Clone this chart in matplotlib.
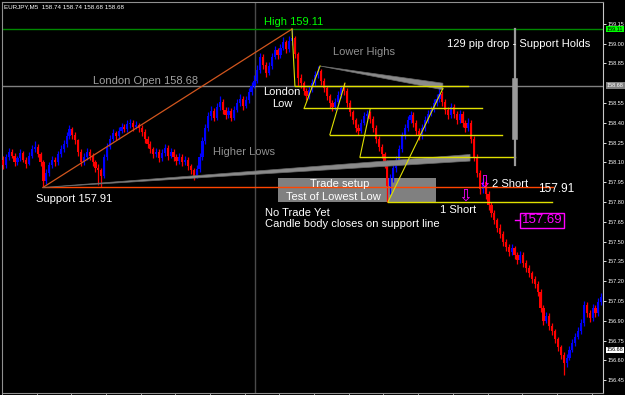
import matplotlib
matplotlib.use("Agg")
import matplotlib.pyplot as plt
import matplotlib.transforms as mtransforms
from matplotlib.patches import Rectangle, Polygon
import numpy as np

plt.rcParams['font.family'] = ['Liberation Sans', 'DejaVu Sans']

# ---------------- data ----------------
symbol_title = "EURJPY,M5  158.74 158.74 158.68 158.68"
first_open = 158.12
closes = [
    158.08, 158.14, 158.18, 158.15, 158.10, 158.13, 158.17, 158.12, 158.09, 158.15,
    158.20, 158.22, 158.16, 158.10, 157.96, 158.02, 158.08, 158.12, 158.10, 158.16,
    158.20, 158.24, 158.30, 158.35, 158.31, 158.27, 158.18, 158.10, 158.14, 158.18,
    158.15, 158.10, 158.06, 158.04, 158.00, 158.14, 158.22, 158.28, 158.32, 158.30,
    158.34, 158.37, 158.35, 158.39, 158.40, 158.37, 158.38, 158.36, 158.33, 158.28,
    158.24, 158.20, 158.16, 158.18, 158.13, 158.17, 158.21, 158.15, 158.18, 158.14,
    158.11, 158.14, 158.10, 158.12, 158.07, 158.04, 158.00, 158.05, 158.14, 158.26,
    158.36, 158.45, 158.49, 158.44, 158.52, 158.56, 158.50, 158.46, 158.49, 158.44,
    158.50, 158.55, 158.58, 158.53, 158.57, 158.63, 158.68, 158.72, 158.80, 158.90,
    158.84, 158.78, 158.83, 158.90, 158.95, 158.91, 158.97, 159.01, 158.96, 159.02,
    159.04, 158.92, 158.74, 158.70, 158.64, 158.60, 158.65, 158.70, 158.76, 158.79,
    158.72, 158.66, 158.60, 158.55, 158.52, 158.56, 158.61, 158.66, 158.64, 158.55,
    158.48, 158.42, 158.36, 158.34, 158.40, 158.45, 158.47, 158.43, 158.36, 158.28,
    158.22, 158.16, 158.10, 157.92, 157.98, 158.06, 158.12, 158.20, 158.30, 158.36,
    158.42, 158.46, 158.40, 158.34, 158.30, 158.36, 158.42, 158.47, 158.50, 158.55,
    158.58, 158.62, 158.56, 158.50, 158.46, 158.52, 158.47, 158.42, 158.47, 158.40,
    158.36, 158.40, 158.28, 158.14, 158.02, 157.90, 157.95, 157.86, 157.78, 157.72,
    157.66, 157.60, 157.56, 157.50, 157.46, 157.42, 157.45, 157.40, 157.36, 157.40,
    157.34, 157.30, 157.26, 157.22, 157.18, 157.12, 157.00, 156.90, 156.94, 156.86,
    156.82, 156.76, 156.70, 156.64, 156.58, 156.62, 156.68, 156.73, 156.78, 156.82,
    156.88, 157.02, 156.96, 156.92, 157.00, 156.96, 157.04, 157.08,
]
highs = [
    158.15, 158.16, 158.21, 158.20, 158.17, 158.15, 158.20, 158.19, 158.14, 158.18,
    158.23, 158.26, 158.24, 158.18, 158.12, 158.05, 158.10, 158.15, 158.14, 158.19,
    158.23, 158.27, 158.33, 158.38, 158.37, 158.33, 158.28, 158.20, 158.17, 158.21,
    158.20, 158.17, 158.12, 158.09, 158.06, 158.16, 158.25, 158.31, 158.35, 158.34,
    158.37, 158.40, 158.39, 158.42, 158.43, 158.42, 158.41, 158.40, 158.38, 158.35,
    158.30, 158.26, 158.22, 158.21, 158.20, 158.20, 158.24, 158.23, 158.21, 158.20,
    158.16, 158.17, 158.16, 158.15, 158.14, 158.09, 158.06, 158.08, 158.17, 158.29,
    158.39, 158.48, 158.53, 158.51, 158.55, 158.60, 158.58, 158.52, 158.52, 158.51,
    158.53, 158.58, 158.62, 158.60, 158.60, 158.66, 158.71, 158.76, 158.84, 158.93,
    158.92, 158.86, 158.86, 158.93, 158.98, 158.97, 159.00, 159.05, 159.03, 159.06,
    159.11, 159.06, 158.94, 158.77, 158.72, 158.66, 158.68, 158.73, 158.79, 158.83,
    158.81, 158.74, 158.68, 158.62, 158.57, 158.59, 158.64, 158.68, 158.70, 158.66,
    158.57, 158.50, 158.44, 158.39, 158.43, 158.48, 158.50, 158.49, 158.45, 158.38,
    158.30, 158.24, 158.18, 158.12, 158.01, 158.09, 158.15, 158.23, 158.33, 158.39,
    158.45, 158.49, 158.48, 158.42, 158.36, 158.39, 158.45, 158.50, 158.53, 158.58,
    158.62, 158.66, 158.64, 158.58, 158.52, 158.55, 158.54, 158.49, 158.50, 158.49,
    158.42, 158.44, 158.42, 158.30, 158.16, 158.04, 157.98, 157.97, 157.88, 157.80,
    157.74, 157.68, 157.63, 157.58, 157.52, 157.48, 157.48, 157.47, 157.42, 157.43,
    157.42, 157.36, 157.32, 157.28, 157.24, 157.20, 157.14, 157.02, 156.97, 156.96,
    156.88, 156.84, 156.78, 156.72, 156.66, 156.65, 156.71, 156.76, 156.81, 156.85,
    156.91, 157.05, 157.04, 156.98, 157.03, 157.02, 157.07, 157.11,
]
lows = [
    158.05, 158.06, 158.12, 158.13, 158.07, 158.08, 158.11, 158.10, 158.06, 158.08,
    158.13, 158.18, 158.14, 158.07, 157.91, 157.94, 158.00, 158.06, 158.07, 158.08,
    158.14, 158.18, 158.22, 158.28, 158.28, 158.24, 158.15, 158.07, 158.08, 158.12,
    158.12, 158.07, 158.03, 157.93, 157.91, 157.98, 158.12, 158.20, 158.26, 158.27,
    158.28, 158.32, 158.33, 158.33, 158.36, 158.34, 158.35, 158.33, 158.30, 158.25,
    158.21, 158.17, 158.13, 158.14, 158.10, 158.11, 158.15, 158.12, 158.13, 158.11,
    158.08, 158.09, 158.07, 158.08, 158.04, 158.01, 157.97, 157.98, 158.03, 158.12,
    158.24, 158.34, 158.42, 158.41, 158.42, 158.50, 158.47, 158.43, 158.44, 158.41,
    158.42, 158.48, 158.53, 158.50, 158.51, 158.55, 158.61, 158.66, 158.70, 158.78,
    158.81, 158.75, 158.76, 158.81, 158.88, 158.88, 158.89, 158.95, 158.93, 158.94,
    158.99, 158.89, 158.68, 158.66, 158.61, 158.57, 158.58, 158.63, 158.68, 158.74,
    158.69, 158.63, 158.57, 158.51, 158.49, 158.50, 158.54, 158.59, 158.61, 158.52,
    158.45, 158.39, 158.33, 158.31, 158.32, 158.38, 158.43, 158.40, 158.33, 158.25,
    158.19, 158.13, 158.06, 157.80, 157.86, 157.95, 158.03, 158.10, 158.18, 158.28,
    158.34, 158.40, 158.37, 158.31, 158.27, 158.28, 158.34, 158.40, 158.45, 158.48,
    158.53, 158.56, 158.53, 158.47, 158.43, 158.44, 158.44, 158.39, 158.40, 158.37,
    158.33, 158.34, 158.25, 158.11, 157.99, 157.86, 157.87, 157.82, 157.74, 157.69,
    157.63, 157.57, 157.53, 157.47, 157.43, 157.39, 157.40, 157.37, 157.33, 157.34,
    157.31, 157.27, 157.23, 157.19, 157.15, 157.09, 156.97, 156.87, 156.88, 156.83,
    156.79, 156.73, 156.67, 156.61, 156.49, 156.55, 156.60, 156.66, 156.71, 156.76,
    156.80, 156.86, 156.93, 156.89, 156.90, 156.93, 156.94, 157.02,
]
opens = [first_open] + closes[:-1]

price_ticks = [159.15, 159.00, 158.85, 158.55, 158.40, 158.25, 158.10, 157.95,
               157.80, 157.65, 157.50, 157.35, 157.20, 157.05, 156.90, 156.75,
               156.60, 156.45]
high_price = 159.11
london_open = 158.68
support_price = 157.91
bid_price = 156.68
target_price = 157.69

# annotation anchors (bar index, price)
support_span = (13.8, 190.3)
high_bar = 100.0
higher_lows = [(13.8, 157.91), (161.6, 158.16), (161.6, 158.11)]
lower_highs = [(109.7, 158.83), (152.2, 158.70), (152.2, 158.65)]
yellow_h = [(158.68, 101.0, 160.9), (158.51, 104.2, 165.7), (158.31, 113.1, 172.7),
            (158.14, 123.5, 177.2), (157.80, 133.2, 190.0)]
yellow_d = [((100.0, 159.11), (101.0, 158.68)), ((104.2, 158.51), (109.7, 158.83)),
            ((113.1, 158.31), (118.3, 158.70)), ((123.5, 158.14), (127.0, 158.50)),
            ((133.2, 157.80), (152.2, 158.66))]
setup_box = (95.2, 149.8, 157.80, 157.98)
drop_bar_x = 177.2
separator_x = 87.2

# ---------------- figure ----------------
W, H = 625, 395
fig = plt.figure(figsize=(W / 100, H / 100), dpi=100, facecolor='black')
ax = fig.add_axes([2 / W, 2 / H, 601 / W, 391 / H], facecolor='black')
n = len(closes)
x = np.arange(n)
ax.set_xlim(-0.35, 207.6)
ax.set_ylim(156.353, 159.315)

# background objects
ax.axvline(separator_x, color='#4a4a4a', lw=1.0, zorder=1)
ax.axhline(high_price, color='#008800', lw=1.0, zorder=1)
ax.axhline(london_open, color='#808080', lw=1.0, zorder=1)
ax.add_patch(Rectangle((setup_box[0], setup_box[2]), setup_box[1] - setup_box[0],
                       setup_box[3] - setup_box[2], fc='#808080', ec='none', zorder=1))

# candles
o = np.array(opens); c = np.array(closes); h = np.array(highs); l = np.array(lows)
up = c >= o
cols = np.where(up, '#0000FF', '#FF0000')
ax.vlines(x, l, h, colors=cols, linewidth=0.9, zorder=3)
ax.bar(x, np.maximum(np.abs(c - o), 0.005), bottom=np.minimum(o, c), width=0.75,
       color=cols, linewidth=0, zorder=3)

# trend objects
ax.plot(support_span, [support_price] * 2, color='#FF4500', lw=1.0, zorder=4)
ax.plot([support_span[0], high_bar], [support_price, high_price], color='#D2561E',
        lw=0.9, zorder=4)
ax.add_patch(Polygon(higher_lows, closed=True, fc='#8a8a8a', ec='#6a6a6a', lw=0.5, zorder=4))
ax.add_patch(Polygon(lower_highs, closed=True, fc='#8a8a8a', ec='#6a6a6a', lw=0.5, zorder=4))
for p, x0, x1 in yellow_h:
    ax.plot([x0, x1], [p, p], color='#E0E000', lw=1.0, zorder=4)
for (a, b) in yellow_d:
    ax.plot([a[0], b[0]], [a[1], b[1]], color='#E0E000', lw=0.8, zorder=4)
ax.plot([drop_bar_x, drop_bar_x], [high_price, 158.08], color='#9a9a9a', lw=1.6, zorder=4)
ax.plot([drop_bar_x, drop_bar_x], [158.72, 158.29], color='#9a9a9a', lw=4.0, zorder=4)
ax.plot([drop_bar_x, 178.9], [157.66, 157.66], color='#FF00FF', lw=1.0, zorder=4)

# texts
fs = 8
ax.text(90.3, 159.16, "High 159.11", color='#00FF00', fontsize=fs, va='center', ha='left', zorder=6)
ax.text(31.1, 158.72, "London Open 158.68", color='#a0a0a0', fontsize=fs, va='center', ha='left', zorder=6)
ax.text(114.2, 158.94, "Lower Highs", color='#909090', fontsize=fs, va='center', ha='left', zorder=6)
ax.text(72.7, 158.18, "Higher Lows", color='#909090', fontsize=fs, va='center', ha='left', zorder=6)
ax.text(96.5, 158.63, "London", color='white', fontsize=fs, va='center', ha='center', zorder=6)
ax.text(96.5, 158.545, "Low", color='white', fontsize=fs, va='center', ha='center', zorder=6)
ax.text(153.6, 159.00, "129 pip drop - Support Holds", color='white', fontsize=fs, va='center', ha='left', zorder=6)
ax.text(11.4, 157.82, "Support 157.91", color='white', fontsize=fs, va='center', ha='left', zorder=6)
ax.text(90.7, 157.72, "No Trade Yet", color='white', fontsize=fs, va='center', ha='left', zorder=6)
ax.text(90.7, 157.635, "Candle body closes on support line", color='white', fontsize=fs, va='center', ha='left', zorder=6)
ax.text(116.6, 157.935, "Trade setup", color='white', fontsize=fs, va='center', ha='center', zorder=6)
ax.text(114.2, 157.84, "Test of Lowest Low", color='white', fontsize=fs, va='center', ha='center', zorder=6)
ax.text(151.2, 157.74, "1 Short", color='white', fontsize=fs, va='center', ha='left', zorder=6)
ax.text(169.2, 157.935, "2 Short", color='white', fontsize=fs, va='center', ha='left', zorder=6)
ax.text(185.1, 157.90, "157.91", color='white', fontsize=8.5, va='center', ha='left', zorder=6)
ax.text(186.5, 157.66, "157.69", color='#FF00FF', fontsize=9.5, va='center', ha='center', zorder=6,
        bbox=dict(boxstyle='square,pad=0.12', fc='black', ec='#FF00FF', lw=1.0))
ax.text(166.4, 157.955, "\u21e9", color='#FF00FF', fontsize=12, va='center', ha='center',
        family='DejaVu Sans', zorder=6)
ax.text(159.9, 157.85, "\u21e9", color='#FF00FF', fontsize=12, va='center', ha='center',
        family='DejaVu Sans', zorder=6)

# axes styling
ax.yaxis.tick_right()
ax.set_yticks(price_ticks)
ax.set_yticklabels([f"{v:.2f}" for v in price_ticks])
ax.tick_params(axis='y', colors='white', length=2, width=0.6, pad=1.5, labelsize=4)
ax.set_xticks(np.arange(0, 208, 12) - 0.35)
ax.tick_params(axis='x', colors='#c0c0c0', length=2, width=0.6, labelbottom=False, direction='out')
for s in ['top', 'left']:
    ax.spines[s].set_color('#909090')
ax.spines['right'].set_color('#c8c8c8')
ax.spines['bottom'].set_color('#909090')

trans = mtransforms.blended_transform_factory(ax.transAxes, ax.transData)
box_specs = [(high_price, '#00FF00', 'black'), (london_open, '#808080', 'white'),
             (bid_price, 'white', 'black')]
for p, fc, tc in box_specs:
    ax.text(1.0065, p, f"{p:.2f}", transform=trans, fontsize=4, color=tc, va='center',
            ha='left', clip_on=False, zorder=7,
            bbox=dict(boxstyle='square,pad=0.15', fc=fc, ec='none'))

fig.text(4 / W, 1 - 7 / H, symbol_title, fontsize=4.5, color='white', va='center', ha='left')

fig.savefig("out.png", dpi=100, facecolor='black')
